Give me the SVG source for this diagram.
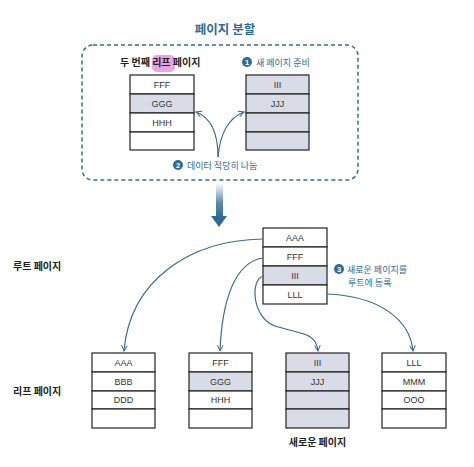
<svg xmlns="http://www.w3.org/2000/svg" width="474" height="467" viewBox="0 0 474 467">
<style>
.cell{fill:#ffffff;stroke:#222;stroke-width:1.2}
.g{fill:#d9dce6}
.t{font-family:"Liberation Sans",Arial,sans-serif;font-size:9px;fill:#333;text-anchor:middle}
.k{font-family:"Noto Sans CJK KR","Noto Sans",sans-serif;font-weight:bold;font-size:10px;fill:#222}
.b{font-family:"Noto Sans CJK KR","Noto Sans",sans-serif;font-size:9px;fill:#2f6c93}
.num{fill:#2f6c93}
.nt{font-family:"Liberation Sans",Arial,sans-serif;font-size:7.5px;font-weight:bold;fill:#fff;text-anchor:middle}
.c{fill:none;stroke:#3a6b8c;stroke-width:1.2}
</style>
<defs>
<marker id="ah" viewBox="0 0 10 10" refX="9" refY="5" markerWidth="7" markerHeight="7" orient="auto-start-reverse" markerUnits="userSpaceOnUse">
<path d="M1,1 L9,5 L1,9" fill="none" stroke="#3a6b8c" stroke-width="1.4"/>
</marker>
<linearGradient id="dg" x1="0" y1="0" x2="0" y2="1">
<stop offset="0" stop-color="#2f6c93" stop-opacity="0"/>
<stop offset="0.6" stop-color="#2f6c93" stop-opacity="0.8"/>
<stop offset="1" stop-color="#2f6c93"/>
</linearGradient>
</defs>

<text x="225" y="34" font-family="Noto Sans CJK KR,Noto Sans,sans-serif" font-weight="bold" font-size="12.5" fill="#2f6c93" text-anchor="middle">페이지 분할</text>
<rect x="82" y="45" width="276" height="135" rx="11" fill="none" stroke="#3a6b8c" stroke-width="1.5" stroke-dasharray="4,3"/>

<g id="split-left">
<rect x="152" y="55" width="23" height="17" rx="5" fill="#e9a3e6"/>
<text x="120" y="66" class="k">두 번째 리프 페이지</text>
<rect x="130" y="75" width="64" height="19" class="cell"/>
<rect x="130" y="94" width="64" height="19" class="cell g"/>
<rect x="130" y="113" width="64" height="19" class="cell"/>
<rect x="130" y="132" width="64" height="18" class="cell"/>
<text x="162" y="88" class="t">FFF</text>
<text x="162" y="107" class="t">GGG</text>
<text x="162" y="126" class="t">HHH</text>
</g>

<g id="split-right">
<circle cx="247" cy="62" r="5" class="num"/><text x="247" y="65" class="nt">1</text>
<text x="256" y="66" class="b">새 페이지 준비</text>
<rect x="246" y="75" width="63" height="19" class="cell g"/>
<rect x="246" y="94" width="63" height="19" class="cell g"/>
<rect x="246" y="113" width="63" height="19" class="cell g"/>
<rect x="246" y="132" width="63" height="18" class="cell g"/>
<text x="277.5" y="88" class="t">III</text>
<text x="277.5" y="107" class="t">JJJ</text>
</g>

<g id="split-label">
<circle cx="178" cy="165" r="5" class="num"/><text x="178" y="168" class="nt">2</text>
<text x="187" y="169" class="b">데이터 적당히 나눔</text>
</g>

<g id="down-arrow">
<rect x="216" y="183" width="7" height="34" fill="url(#dg)"/>
<path d="M211,216 L227,216 L219,227 Z" fill="#2f6c93"/>
</g>

<text x="13" y="270" class="k">루트 페이지</text>
<text x="13" y="395" class="k">리프 페이지</text>

<g id="root">
<rect x="263" y="228" width="64" height="19" class="cell"/>
<rect x="263" y="247" width="64" height="19" class="cell"/>
<rect x="263" y="266" width="64" height="19" class="cell g"/>
<rect x="263" y="285" width="64" height="19" class="cell"/>
<text x="295" y="241" class="t">AAA</text>
<text x="295" y="260" class="t">FFF</text>
<text x="295" y="279" class="t">III</text>
<text x="295" y="298" class="t">LLL</text>
<circle cx="339" cy="269" r="5" class="num"/><text x="339" y="272" class="nt">3</text>
<text x="347" y="273" class="b">새로운 페이지를</text>
<text x="348" y="286" class="b">루트에 등록</text>
</g>

<g id="leaf1">
<rect x="92" y="353" width="63" height="19" class="cell"/>
<rect x="92" y="372" width="63" height="19" class="cell"/>
<rect x="92" y="391" width="63" height="18" class="cell"/>
<rect x="92" y="409" width="63" height="19" class="cell"/>
<text x="123.5" y="366" class="t">AAA</text>
<text x="123.5" y="385" class="t">BBB</text>
<text x="123.5" y="403" class="t">DDD</text>
</g>

<g id="leaf2">
<rect x="189" y="353" width="63" height="19" class="cell"/>
<rect x="189" y="372" width="63" height="19" class="cell g"/>
<rect x="189" y="391" width="63" height="18" class="cell"/>
<rect x="189" y="409" width="63" height="19" class="cell"/>
<text x="220.5" y="366" class="t">FFF</text>
<text x="220.5" y="385" class="t">GGG</text>
<text x="220.5" y="403" class="t">HHH</text>
</g>

<g id="leaf3">
<rect x="286" y="353" width="63" height="19" class="cell g"/>
<rect x="286" y="372" width="63" height="19" class="cell g"/>
<rect x="286" y="391" width="63" height="18" class="cell g"/>
<rect x="286" y="409" width="63" height="19" class="cell g"/>
<text x="317.5" y="366" class="t">III</text>
<text x="317.5" y="385" class="t">JJJ</text>
<text x="317.5" y="446" class="k" text-anchor="middle">새로운 페이지</text>
</g>

<g id="leaf4">
<rect x="382" y="353" width="64" height="19" class="cell"/>
<rect x="382" y="372" width="64" height="19" class="cell"/>
<rect x="382" y="391" width="64" height="18" class="cell"/>
<rect x="382" y="409" width="64" height="19" class="cell"/>
<text x="414" y="366" class="t">LLL</text>
<text x="414" y="385" class="t">MMM</text>
<text x="414" y="403" class="t">OOO</text>
</g>

<g id="connectors">
<path class="c" d="M218,157 C218,135 212,118 196,112" marker-end="url(#ah)"/>
<path class="c" d="M218,157 C220,135 228,118 244,112" marker-end="url(#ah)"/>
<path class="c" d="M263,239 C190,240 130,280 124,351" marker-end="url(#ah)"/>
<path class="c" d="M263,258 C235,262 222,300 220,351" marker-end="url(#ah)"/>
<path class="c" d="M263,276 C250,280 252,318 275,326 C300,334 316,332 318,351" marker-end="url(#ah)"/>
<path class="c" d="M327,294 C380,296 410,320 413,351" marker-end="url(#ah)"/>
</g>
</svg>
